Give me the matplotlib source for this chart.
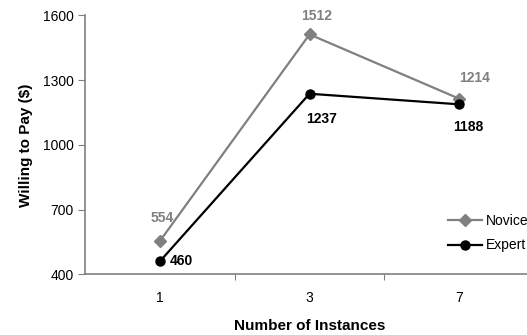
import matplotlib
matplotlib.use("Agg")
import matplotlib.pyplot as plt
import numpy as np

plt.rcParams['font.family'] = ['Liberation Sans', 'DejaVu Sans']

instances = ["1", "3", "7"]
novice = [554, 1512, 1214]
expert = [460, 1237, 1188]

grey = "#808080"

fig = plt.figure(figsize=(5.27, 3.35), dpi=100)
ax = fig.add_axes([0.1613, 0.181, 0.852, 0.773])

x = np.arange(1, len(instances) + 1)
ax.plot(x, novice, color=grey, lw=1.6, marker="D", ms=6.5, mec=grey, mfc=grey, label="Novice", clip_on=False)
ax.plot(x, expert, color="black", lw=1.6, marker="o", ms=6.5, label="Expert", clip_on=False)

# value labels (offsets in pixels)
label_kw = dict(textcoords="offset pixels", fontsize=10, fontweight="bold")
ax.annotate(str(novice[0]), (x[0], novice[0]), xytext=(2, 16), ha="center", va="bottom", color=grey, **label_kw)
ax.annotate(str(novice[1]), (x[1], novice[1]), xytext=(7, 11), ha="center", va="bottom", color=grey, **label_kw)
ax.annotate(str(novice[2]), (x[2], novice[2]), xytext=(15, 14), ha="center", va="bottom", color=grey, **label_kw)
ax.annotate(str(expert[0]), (x[0], expert[0]), xytext=(10, 0), ha="left", va="center", color="black", **label_kw)
ax.annotate(str(expert[1]), (x[1], expert[1]), xytext=(12, -18), ha="center", va="top", color="black", **label_kw)
ax.annotate(str(expert[2]), (x[2], expert[2]), xytext=(9, -16), ha="center", va="top", color="black", **label_kw)

ax.set_xlim(0.5, 3.5)
ax.set_ylim(400, 1600)
ax.set_yticks([400, 700, 1000, 1300, 1600])
ax.set_xticks([1.5, 2.5])
ax.set_xticklabels([])
ax.set_xticks(x, minor=True)
ax.set_xticklabels(instances, minor=True)
ax.tick_params(axis="x", which="minor", length=0, pad=12, labelsize=10)
ax.tick_params(axis="x", which="major", length=4, color=grey, direction="out")
ax.tick_params(axis="y", length=5, color=grey, labelsize=10, pad=3)

for side in ["top", "right"]:
    ax.spines[side].set_visible(False)
for side in ["left", "bottom"]:
    ax.spines[side].set_color(grey)
    ax.spines[side].set_linewidth(1.2)

ax.set_ylabel("Willing to Pay ($)", fontsize=11, fontweight="bold", labelpad=7)
ax.set_xlabel("Number of Instances", fontsize=11, fontweight="bold", labelpad=10)

ax.legend(loc="center left", bbox_to_anchor=(0.808, 0.159), frameon=False, fontsize=10,
          handlelength=2.45, handletextpad=0.3, labelspacing=0.75, borderaxespad=0, borderpad=0)

fig.savefig("out.png", dpi=100)
